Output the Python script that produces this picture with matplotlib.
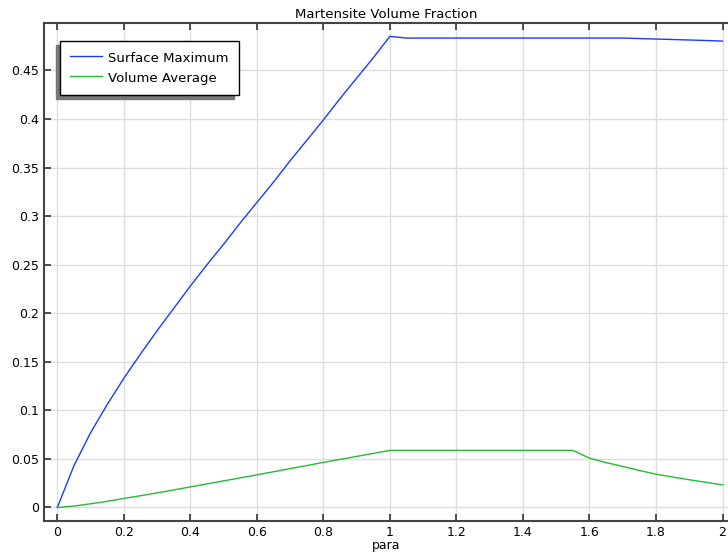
import matplotlib
matplotlib.use("Agg")
import matplotlib.pyplot as plt

para = [0.0, 0.05, 0.1, 0.15, 0.2, 0.25, 0.3, 0.35, 0.4, 0.45, 0.5,
        0.55, 0.6, 0.65, 0.7, 0.75, 0.8, 0.85, 0.9, 0.95, 1.0,
        1.05, 1.1, 1.15, 1.2, 1.25, 1.3, 1.35, 1.4, 1.45, 1.5,
        1.55, 1.6, 1.65, 1.7, 1.75, 1.8, 1.85, 1.9, 1.95, 2.0]

surface_max = [0.0, 0.043, 0.077, 0.106, 0.133, 0.158, 0.182, 0.205, 0.228, 0.250, 0.271,
               0.293, 0.314, 0.335, 0.357, 0.378, 0.399, 0.421, 0.442, 0.463, 0.485,
               0.4833, 0.4833, 0.4833, 0.4833, 0.4833, 0.4833, 0.4833, 0.4833, 0.4833, 0.4833,
               0.4833, 0.4833, 0.4833, 0.4833, 0.4828, 0.4823, 0.4818, 0.4813, 0.4808, 0.4802]

volume_avg = [0.0, 0.0015, 0.0038, 0.0063, 0.0093, 0.0121, 0.0150, 0.0181, 0.0212, 0.0243, 0.0274,
              0.0305, 0.0336, 0.0368, 0.0400, 0.0432, 0.0464, 0.0495, 0.0526, 0.0557, 0.0588,
              0.0588, 0.0588, 0.0588, 0.0588, 0.0588, 0.0588, 0.0588, 0.0588, 0.0588, 0.0588,
              0.0588, 0.0508, 0.0462, 0.0423, 0.0381, 0.0343, 0.0314, 0.0286, 0.0259, 0.0233]

series_labels = ["Surface Maximum", "Volume Average"]
xticks = [0, 0.2, 0.4, 0.6, 0.8, 1, 1.2, 1.4, 1.6, 1.8, 2]
xtick_labels = ["0", "0.2", "0.4", "0.6", "0.8", "1", "1.2", "1.4", "1.6", "1.8", "2"]
yticks = [0, 0.05, 0.1, 0.15, 0.2, 0.25, 0.3, 0.35, 0.4, 0.45]
ytick_labels = ["0", "0.05", "0.1", "0.15", "0.2", "0.25", "0.3", "0.35", "0.4", "0.45"]

plt.rcParams['font.family'] = ['DejaVu Sans']

fig = plt.figure(figsize=(7.28, 5.55), dpi=100)
ax = fig.add_axes([44 / 728, 1 - 521 / 555, 685 / 728, (521 - 23.3) / 555])

ax.plot(para, surface_max, color='#1a3cff', lw=1.0, label=series_labels[0], zorder=3)
ax.plot(para, volume_avg, color='#22bb33', lw=1.0, label=series_labels[1], zorder=3)

ax.set_xlim(-0.04, 2.0195)
ax.set_ylim(-0.0139, 0.4985)
ax.set_xticks(xticks)
ax.set_xticklabels(xtick_labels)
ax.set_yticks(yticks)
ax.set_yticklabels(ytick_labels)

ax.grid(True, color='#dddddd', lw=1)
ax.set_axisbelow(True)

for side in ['left', 'bottom', 'top']:
    ax.spines[side].set_color('#444444')
    ax.spines[side].set_linewidth(1.5)
ax.spines['right'].set_visible(False)

ax.tick_params(axis='both', direction='in', length=5, width=1.2, color='#333333',
               labelsize=9, pad=3.5)
ax.tick_params(axis='x', top=True, labeltop=False)

ax.set_xlabel("para", fontsize=9, labelpad=0)
ax.set_title("Martensite Volume Fraction", fontsize=9.5, pad=4)

leg = ax.legend(loc='upper left', bbox_to_anchor=(0.0234, 0.965), borderaxespad=0,
                fontsize=9.5, fancybox=False, edgecolor='black', framealpha=1,
                handlelength=2.4, handletextpad=0.5, labelspacing=0.45,
                handleheight=1.2, borderpad=0.75,
                shadow={'ox': -3, 'oy': -3, 'color': '#777777', 'alpha': 1})
leg.get_frame().set_linewidth(1.0)

fig.savefig("out.png", dpi=100)
